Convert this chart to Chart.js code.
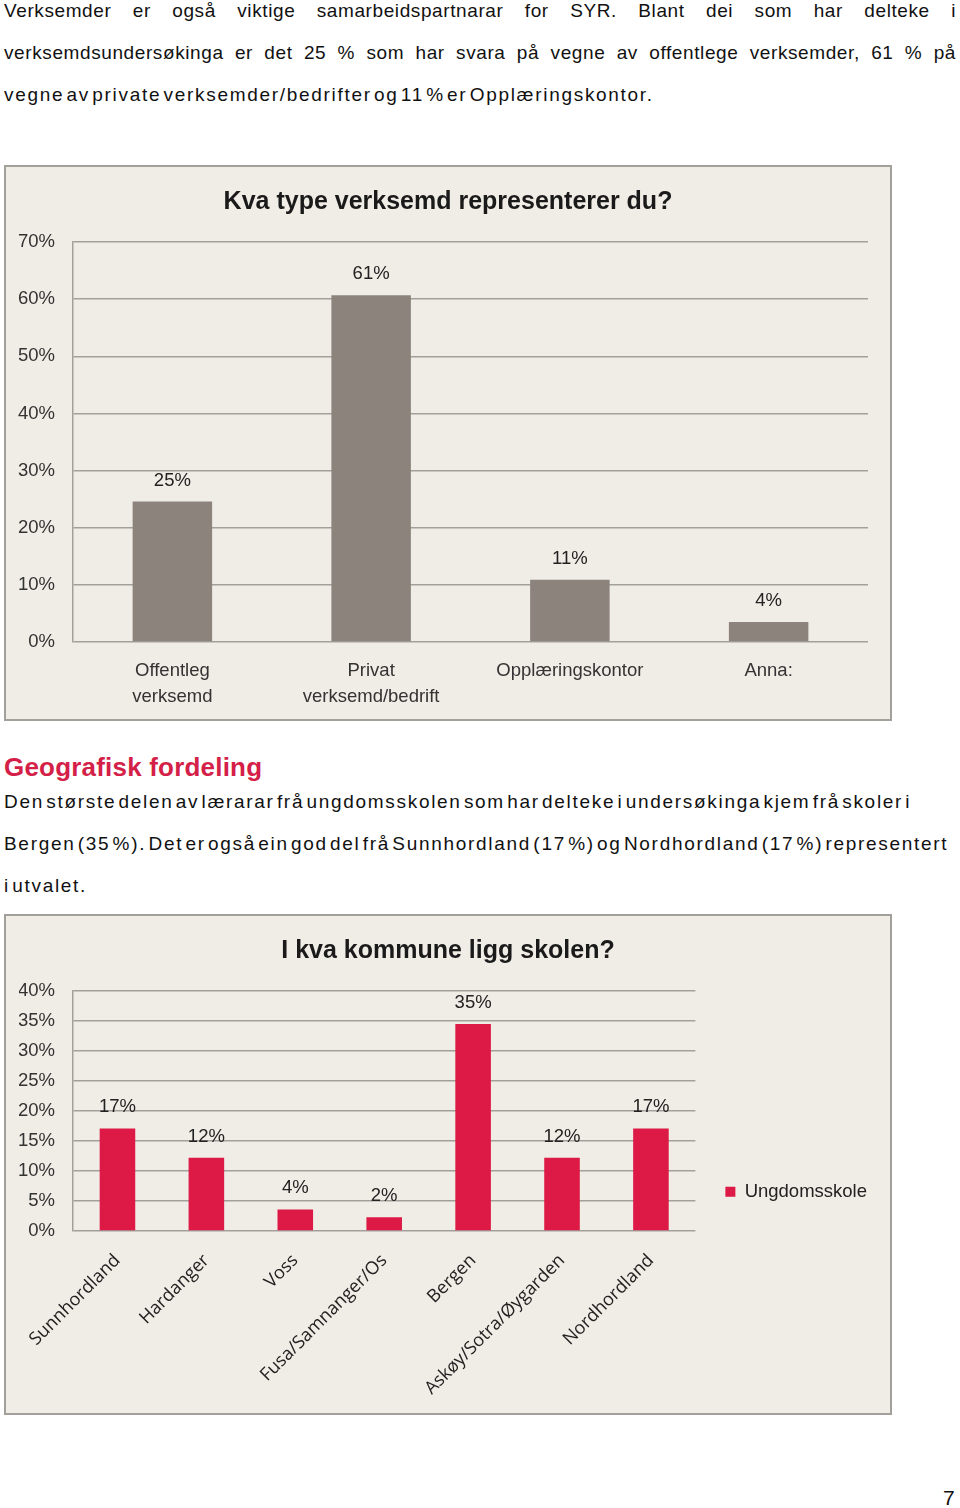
<!DOCTYPE html>
<html lang="nn">
<head>
<meta charset="utf-8">
<script src="https://cdn.jsdelivr.net/npm/chart.js@4/dist/chart.umd.min.js"></script>
<style>
  html, body { margin: 0; padding: 0; background: #fff; }
  body { width: 960px; height: 1508px; position: relative; overflow: hidden;
         font-family: "Liberation Sans", Arial, sans-serif; color: #111; }
  .txt { position: absolute; left: 4px; width: 952px; font-size: 19px; line-height: 42px;
         letter-spacing: 1.7px; word-spacing: -4.7px; white-space: nowrap; }
  .just { text-align: justify; text-align-last: justify; letter-spacing: 0.6px; word-spacing: 0; }
  .head { position: absolute; left: 4px; top: 752px; font-size: 26px; font-weight: bold; color: #d41f48;
          letter-spacing: 0.2px; }
  .box { position: absolute; left: 4px; width: 888px; box-sizing: border-box;
         border: 2px solid #a3a09c; background: #f0ece6; }
  .box div { position: relative; width: 100%; height: 100%; }
  .pnum { position: absolute; left: 943px; top: 1486px; font-size: 21px; }
</style>
</head>
<body>
<div class="txt" style="top:-10px">
  <div class="just">Verksemder er også viktige samarbeidspartnarar for SYR. Blant dei som har delteke i</div>
  <div class="just">verksemdsundersøkinga er det 25 % som har svara på vegne av offentlege verksemder, 61 % på</div>
  <div>vegne av private verksemder/bedrifter og 11 % er Opplæringskontor.</div>
</div>

<div class="box" style="top:165px;height:556px"><div><canvas id="typeChart"></canvas></div></div>

<div class="head">Geografisk fordeling</div>
<div class="txt" style="top:781px">
  Den største delen av lærarar frå ungdomsskolen som har delteke i undersøkinga kjem frå skoler i<br>
  Bergen (35 %). Det er også ein god del frå Sunnhordland (17 %) og Nordhordland (17 %) representert<br>
  i utvalet.
</div>

<div class="box" style="top:914px;height:501px"><div><canvas id="kommuneChart"></canvas></div></div>

<div class="pnum">7</div>

<script>
// chart 1: type verksemd
const typeLabels = [["Offentleg", "verksemd"], ["Privat", "verksemd/bedrift"], "Opplæringskontor", "Anna:"];
const typeValues = [24.6, 60.7, 10.9, 3.5];

// chart 2: kommune
const kommuneLabels = ["Sunnhordland", "Hardanger", "Voss", "Fusa/Samnanger/Os", "Bergen", "Askøy/Sotra/Øygarden", "Nordhordland"];
const kommuneValues = [17.1, 12.2, 3.6, 2.3, 34.5, 12.2, 17.1];

Chart.defaults.font.family = '"Liberation Sans", Arial, sans-serif';
Chart.defaults.font.size = 18.5;
Chart.defaults.color = "#333";
Chart.defaults.animation = false;

const gridColor = "#a3a09c";

// value labels above the bars
const barLabels = {
  id: "barLabels",
  afterDatasetsDraw(chart) {
    const ctx = chart.ctx;
    const meta = chart.getDatasetMeta(0);
    const data = chart.data.datasets[0].data;
    ctx.save();
    ctx.font = '18.5px "Liberation Sans", Arial, sans-serif';
    ctx.fillStyle = "#222";
    ctx.textAlign = "center";
    ctx.textBaseline = "middle";
    meta.data.forEach((bar, i) => {
      ctx.fillText(Math.round(data[i]) + "%", bar.x, bar.y - 21);
    });
    ctx.restore();
  },
};

function titleOpts(text) {
  return {
    display: true,
    text: text,
    color: "#1a1a1a",
    font: { size: 25, weight: "bold" },
    padding: { top: 20, bottom: 25 },
  };
}

function yAxis(max, step, w) {
  return {
    min: 0,
    max: max,
    afterFit: (axis) => { axis.width = w; },
    ticks: { stepSize: step, padding: 18, callback: (v) => v + "%" },
    grid: { color: gridColor, lineWidth: 1.5, drawTicks: false },
    border: { display: true, color: gridColor, width: 1.5 },
  };
}

/* 1. Kva type verksemd ---------------------------------- */
new Chart(document.getElementById("typeChart"), {
  type: "bar",
  data: {
    labels: typeLabels,
    datasets: [{
      label: "Verksemd",
      data: typeValues,
      backgroundColor: "#8c847c",
      categoryPercentage: 1,
      barPercentage: 0.4,
    }],
  },
  options: {
    responsive: true,
    maintainAspectRatio: false,
    layout: { padding: 0 },
    scales: {
      x: {
        afterFit: (axis) => { axis.height = 77; },
        ticks: { padding: 16, font: { lineHeight: 1.4 }, maxRotation: 0 },
        grid: { display: false, drawTicks: false },
        border: { display: false },
      },
      y: yAxis(70, 10, 67),
      // empty right axis, only keeps the plot off the right edge
      yRight: {
        type: "linear",
        position: "right",
        afterFit: (axis) => { axis.width = 22; },
        ticks: { display: false },
        grid: { display: false, drawTicks: false },
        border: { display: false },
      },
    },
    plugins: {
      title: titleOpts("Kva type verksemd representerer du?"),
      legend: { display: false },
      tooltip: { enabled: false },
    },
  },
  plugins: [barLabels],
});

/* 2. I kva kommune ----------------------------------- */
new Chart(document.getElementById("kommuneChart"), {
  type: "bar",
  data: {
    labels: kommuneLabels,
    datasets: [{
      label: "Ungdomsskole",
      data: kommuneValues,
      backgroundColor: "#dc1a45",
      categoryPercentage: 1,
      barPercentage: 0.4,
    }],
  },
  options: {
    responsive: true,
    maintainAspectRatio: false,
    layout: { padding: { left: 13, right: 13, top: 0, bottom: 0 } },
    scales: {
      x: {
        afterFit: (axis) => { axis.height = 182; },
        ticks: {
          padding: 19,
          minRotation: 45,
          maxRotation: 45,
          autoSkip: false,
          color: "#222",
          font: { family: '"Open Sans", sans-serif', size: 18 },
        },
        grid: { display: false, drawTicks: false },
        border: { display: false },
      },
      y: yAxis(40, 5, 54),
    },
    plugins: {
      title: titleOpts("I kva kommune ligg skolen?"),
      legend: {
        position: "right",
        align: "end",
        fullSize: false,
        labels: { boxWidth: 10, boxHeight: 10, padding: 30, color: "#222" },
      },
      tooltip: { enabled: false },
    },
  },
  plugins: [barLabels],
});
</script>
</body>
</html>
